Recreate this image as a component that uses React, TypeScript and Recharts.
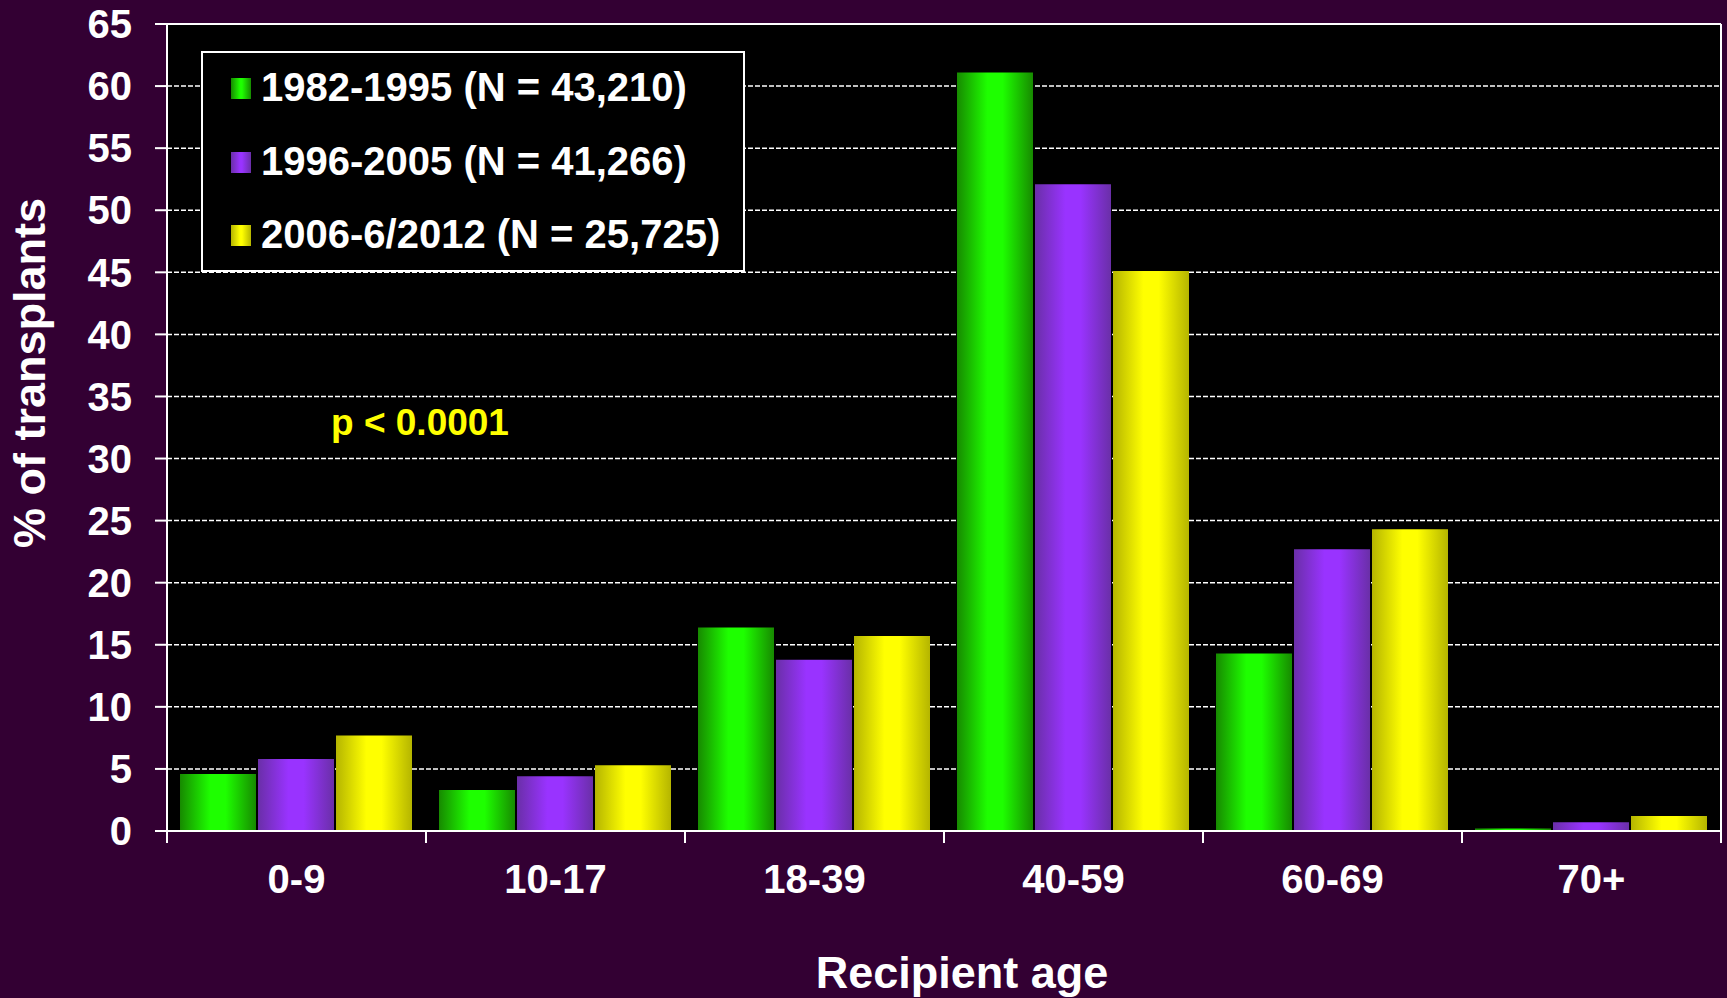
import React from 'react';
import { BarChart, Bar, XAxis, YAxis, CartesianGrid, Legend, ReferenceLine } from 'recharts';

const ageGroups = ['0-9', '10-17', '18-39', '40-59', '60-69', '70+'];
const era1982to1995 = [4.6, 3.3, 16.4, 61.1, 14.3, 0.2];
const era1996to2005 = [5.8, 4.4, 13.8, 52.1, 22.7, 0.7];
const era2006to2012 = [7.7, 5.3, 15.7, 45.1, 24.3, 1.2];
const yTicks = [0, 5, 10, 15, 20, 25, 30, 35, 40, 45, 50, 55, 60, 65];

const seriesInfo = [
  { key: 'e1', name: '1982-1995 (N = 43,210)', dark: '#178a00', light: '#1eff00' },
  { key: 'e2', name: '1996-2005 (N = 41,266)', dark: '#6a2fa8', light: '#9933ff' },
  { key: 'e3', name: '2006-6/2012 (N = 25,725)', dark: '#b5b500', light: '#ffff00' },
];

const data = ageGroups.map((age, i) => ({
  age,
  e1: era1982to1995[i],
  e2: era1996to2005[i],
  e3: era2006to2012[i],
}));

const FONT = "Arial, 'Liberation Sans', Helvetica, sans-serif";
const W = 1727;
const H = 998;
const BAND = (1721 - 167) / ageGroups.length;

function AgeTick(props: any) {
  const { x, y, payload, index } = props;
  const half = payload && typeof payload.offset === 'number' && payload.offset > 0 ? payload.offset : BAND / 2;
  return (
    <g>
      <line x1={x - half} x2={x - half} y1={y} y2={y + 12} stroke="#fff" strokeWidth={2} />
      {index === ageGroups.length - 1 && (
        <line x1={x + half} x2={x + half} y1={y} y2={y + 12} stroke="#fff" strokeWidth={2} />
      )}
      <text x={x} y={y + 62} textAnchor="middle" fill="#fff" fontSize={40} fontWeight="bold" fontFamily={FONT}>
        {payload.value}
      </text>
    </g>
  );
}

function LegendBox() {
  return (
    <div
      style={{
        position: 'relative',
        width: 544,
        height: 221,
        border: '2px solid #fff',
        background: '#000',
        boxSizing: 'border-box',
        fontFamily: FONT,
      }}
    >
      {seriesInfo.map((s, i) => (
        <React.Fragment key={s.key}>
          <div
            style={{
              position: 'absolute',
              left: 28,
              top: 25 + i * 73.5,
              width: 20,
              height: 21,
              background: `linear-gradient(to right, ${s.dark}, ${s.light} 45%, ${s.light} 55%, ${s.dark})`,
            }}
          />
          <div
            style={{
              position: 'absolute',
              left: 58,
              top: 14 + i * 73.5,
              fontSize: 40,
              fontWeight: 'bold',
              color: '#fff',
              lineHeight: 1,
              whiteSpace: 'nowrap',
            }}
          >
            {s.name}
          </div>
        </React.Fragment>
      ))}
    </div>
  );
}

export default function App() {
  return (
    <div style={{ position: 'absolute', left: 0, top: 0, width: W, height: H, background: '#330033', overflow: 'hidden' }}>
      <BarChart
        width={W}
        height={H}
        data={data}
        margin={{ top: 24, right: 6, bottom: 0, left: 0 }}
        barCategoryGap={13}
        barGap={2}
      >
        <defs>
          {seriesInfo.map((s) => (
            <linearGradient key={s.key} id={`grad-${s.key}`} x1="0" y1="0" x2="1" y2="0">
              <stop offset="0%" stopColor={s.dark} />
              <stop offset="40%" stopColor={s.light} />
              <stop offset="60%" stopColor={s.light} />
              <stop offset="100%" stopColor={s.dark} />
            </linearGradient>
          ))}
        </defs>
        <CartesianGrid vertical={false} fill="#000" stroke="#fff" strokeWidth={1.5} strokeDasharray="5 2" />
        <XAxis
          dataKey="age"
          height={167}
          tickLine={false}
          tickSize={0}
          tickMargin={0}
          axisLine={{ stroke: '#fff', strokeWidth: 2 }}
          tick={<AgeTick />}
          interval={0}
          label={{
            content: () => (
              <text x={962} y={988} textAnchor="middle" fill="#fff" fontSize={45} fontWeight="bold" fontFamily={FONT}>
                Recipient age
              </text>
            ),
          }}
        />
        <YAxis
          width={167}
          domain={[0, 65]}
          ticks={yTicks}
          interval={0}
          tickSize={12}
          tickMargin={23}
          tickLine={{ stroke: '#fff', strokeWidth: 2 }}
          axisLine={{ stroke: '#fff', strokeWidth: 2 }}
          tick={{ fill: '#fff', fontSize: 40, fontWeight: 'bold', fontFamily: FONT }}
          label={{
            content: () => (
              <text
                x={45}
                y={373}
                transform="rotate(-90 45 373)"
                textAnchor="middle"
                fill="#fff"
                fontSize={45}
                fontWeight="bold"
                fontFamily={FONT}
              >
                % of transplants
              </text>
            ),
          }}
        />
        <ReferenceLine y={65} stroke="#fff" strokeWidth={2} />
        <ReferenceLine x="70+" position="end" stroke="#fff" strokeWidth={2} />
        <Legend
          layout="horizontal"
          verticalAlign="middle"
          align="center"
          content={() => <LegendBox />}
          wrapperStyle={{ left: 201, top: 51, width: 544, height: 221 }}
        />
        {seriesInfo.map((s) => (
          <Bar key={s.key} dataKey={s.key} name={s.name} fill={`url(#grad-${s.key})`} isAnimationActive={false} />
        ))}
      </BarChart>
      <div
        style={{
          position: 'absolute',
          left: 331,
          top: 404,
          fontSize: 37,
          fontWeight: 'bold',
          color: '#ffff00',
          fontFamily: FONT,
          lineHeight: 1,
          whiteSpace: 'nowrap',
        }}
      >
        p &lt; 0.0001
      </div>
    </div>
  );
}
